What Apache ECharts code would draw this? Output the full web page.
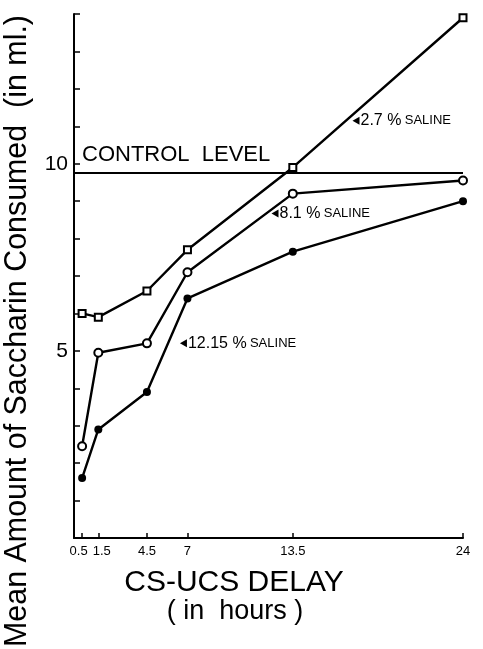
<!DOCTYPE html>
<html>
<head>
    <meta charset="utf-8">
    <title>Saccharin consumed vs CS-UCS delay</title>
    <script src="https://cdn.jsdelivr.net/npm/echarts@6/dist/echarts.min.js"></script>
    <style>
        html, body { margin: 0; padding: 0; background: #fff; }
        #main { width: 483px; height: 649px; }
    </style>
</head>
<body>
    <div id="main"></div>
    <script>
        // delay in hours (x values)
        const delays = [0.5, 1.5, 4.5, 7, 13.5, 24];
        // mean saccharin consumed (ml)
        const saline27 = [6.0, 5.9, 6.6, 7.7, 9.9, 13.9];
        const saline81 = [2.45, 4.95, 5.2, 7.1, 9.2, 9.55];
        const saline1215 = [1.6, 2.9, 3.9, 6.4, 7.65, 9.0];
        const controlLevel = 9.75;
        const xTickLabels = [0.5, 1.5, 4.5, 7, 13.5, 24];
        const yTicks = [1, 2, 3, 4, 5, 6, 7, 8, 9, 10, 11, 12, 13, 14];
        const yTickLabels = [5, 10];

        const toPairs = (ys) => ys.map((y, i) => [delays[i], y]);

        // small left-pointing arrow + label next to each curve
        function pointer(coord, num) {
            return {
                symbol: 'triangle',
                symbolSize: [8, 7],
                symbolRotate: 90,
                itemStyle: { color: '#000' },
                label: {
                    show: true,
                    position: 'right',
                    distance: 1,
                    formatter: '{a|' + num + ' %} {b|SALINE}',
                    rich: {
                        a: { fontSize: 16, color: '#000', fontFamily: 'Liberation Sans' },
                        b: { fontSize: 13, color: '#000', fontFamily: 'Liberation Sans' }
                    }
                },
                data: [{ coord: coord }]
            };
        }

        const chart = echarts.init(document.getElementById('main'));
        const lineStyle = { color: '#000', width: 2.4 };

        chart.setOption({
            backgroundColor: '#fff',
            animation: false,
            grid: { left: 74, top: 14, right: 20, bottom: 111 },
            xAxis: {
                type: 'value',
                min: 0,
                max: 24,
                axisLine: { lineStyle: { color: '#000', width: 2 } },
                axisTick: { customValues: xTickLabels, inside: true, length: 5, lineStyle: { color: '#000', width: 1.5 } },
                axisLabel: {
                    customValues: xTickLabels,
                    hideOverlap: false,
                    showMinLabel: true,
                    showMaxLabel: true,
                    color: '#000',
                    fontSize: 13,
                    margin: 7,
                    fontFamily: 'Liberation Sans',
                    formatter: (v) => v === 0.5 ? '{l|0.5}' : v === 1.5 ? '{r|1.5}' : String(v),
                    rich: {
                        l: { padding: [0, 7, 0, 0], fontSize: 13, color: '#000', fontFamily: 'Liberation Sans' },
                        r: { padding: [0, 0, 0, 7], fontSize: 13, color: '#000', fontFamily: 'Liberation Sans' }
                    }
                },
                splitLine: { show: false }
            },
            yAxis: {
                type: 'value',
                min: 0,
                max: 14,
                interval: 1,
                axisLine: { show: true, lineStyle: { color: '#000', width: 2 } },
                axisTick: { show: true, customValues: yTicks, inside: true, length: 6, lineStyle: { color: '#000', width: 1.5 } },
                axisLabel: {
                    customValues: yTickLabels,
                    color: '#000',
                    fontSize: 21,
                    margin: 6,
                    fontFamily: 'Liberation Sans'
                },
                splitLine: { show: false }
            },
            graphic: [
                {
                    type: 'text',
                    x: 17,
                    y: 331,
                    rotation: Math.PI / 2,
                    scaleX: 0.95,
                    style: {
                        text: 'Mean Amount of Saccharin Consumed  (in ml.)',
                        font: '32px "Liberation Sans"',
                        fill: '#000',
                        align: 'center',
                        verticalAlign: 'middle'
                    }
                },
                {
                    type: 'text',
                    x: 234,
                    y: 583,
                    style: {
                        text: 'CS-UCS DELAY',
                        font: '30px "Liberation Sans"',
                        fill: '#000',
                        align: 'center',
                        verticalAlign: 'middle'
                    }
                },
                {
                    type: 'text',
                    x: 235,
                    y: 612,
                    style: {
                        text: '( in  hours )',
                        font: '27px "Liberation Sans"',
                        fill: '#000',
                        align: 'center',
                        verticalAlign: 'middle'
                    }
                },
                {
                    type: 'text',
                    x: 82,
                    y: 155,
                    style: {
                        text: 'CONTROL  LEVEL',
                        font: '22px "Liberation Sans"',
                        fill: '#000',
                        align: 'left',
                        verticalAlign: 'middle'
                    }
                }
            ],
            series: [
                {
                    name: 'Control level',
                    type: 'line',
                    data: [[0, controlLevel], [24, controlLevel]],
                    showSymbol: false,
                    lineStyle: { color: '#000', width: 2 },
                    z: 1
                },
                {
                    name: '2.7 % saline',
                    type: 'line',
                    data: toPairs(saline27),
                    symbol: 'emptyRect',
                    symbolSize: 7,
                    itemStyle: { color: '#000', borderWidth: 1.3 },
                    lineStyle: lineStyle,
                    markPoint: pointer([17.4, 11.15], '2.7')
                },
                {
                    name: '8.1 % saline',
                    type: 'line',
                    data: toPairs(saline81),
                    symbol: 'emptyCircle',
                    symbolSize: 8,
                    itemStyle: { color: '#000', borderWidth: 1.3 },
                    lineStyle: lineStyle,
                    markPoint: pointer([12.4, 8.67], '8.1')
                },
                {
                    name: '12.15 % saline',
                    type: 'line',
                    data: toPairs(saline1215),
                    symbol: 'circle',
                    symbolSize: 8,
                    itemStyle: { color: '#000' },
                    lineStyle: lineStyle,
                    markPoint: pointer([6.75, 5.2], '12.15')
                }
            ]
        });
    </script>
</body>
</html>
